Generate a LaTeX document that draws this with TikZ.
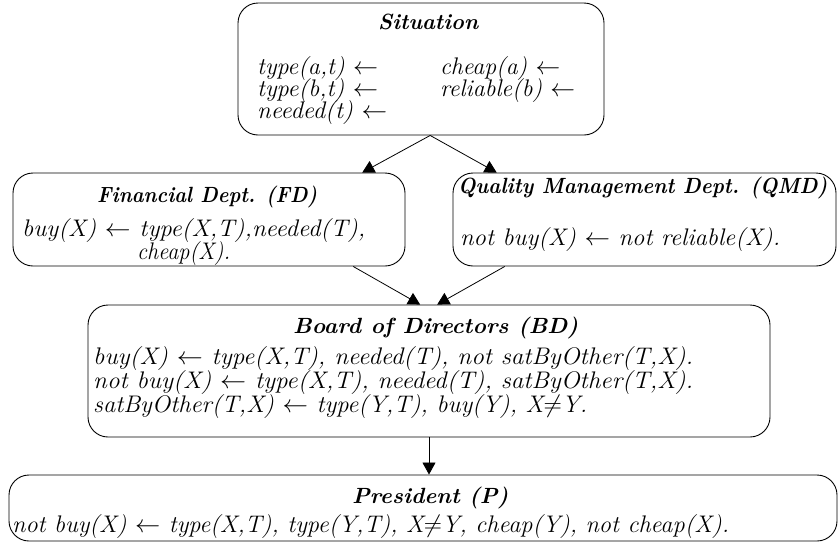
\documentclass[tikz,border=0pt]{standalone}
\usepackage{fontspec}
\setmainfont{Latin Modern Roman}
\usetikzlibrary{arrows.meta,calc}
\newcommand{\bodyfs}{\fontsize{24}{26}\selectfont}
\newcommand{\ttlfs}{\fontsize{22}{24}\selectfont}
\newcommand{\fitw}[2]{\resizebox{#1pt}{\height}{#2}}
\tikzset{
  box/.style={draw, rounded corners=20pt, line width=0.9pt, inner sep=0pt},
  ttl/.style={anchor=base west, font=\ttlfs\bfseries\itshape, inner sep=0pt},
  txt/.style={anchor=base west, font=\bodyfs\itshape, inner sep=0pt},
  arr/.style={-{Triangle[length=12pt,width=13pt]}, line width=0.8pt},
}
\begin{document}
\begin{tikzpicture}[x=1pt,y=-1pt]
\useasboundingbox (0,0) rectangle (838,544);
% boxes
\node[box, minimum width=366pt, minimum height=132pt] (sit) at (421,69) {};
\node[box, minimum width=392pt, minimum height=93pt] (fd) at (209,219.5) {};
\node[box, minimum width=383pt, minimum height=93pt] (qmd) at (644.5,219.5) {};
\node[box, minimum width=682pt, minimum height=132pt] (bd) at (429,371) {};
\node[box, minimum width=828pt, minimum height=66pt] (pres) at (423,508) {};
% Situation
\node[ttl] (sitT) at (378,29) {\fitw{100}{Situation}};
\node[txt] (s1) at (257,74) {\fitw{121}{type(a,t) $\leftarrow$}};
\node[txt] (s2) at (257,96) {\fitw{121}{type(b,t) $\leftarrow$}};
\node[txt] (s3) at (257,118) {\fitw{130}{needed(t) $\leftarrow$}};
\node[txt] (s4) at (440,74) {\fitw{120}{cheap(a) $\leftarrow$}};
\node[txt] (s5) at (440,96) {\fitw{135}{reliable(b) $\leftarrow$}};
% FD
\node[ttl] (fdT) at (97,202) {\fitw{220}{Financial Dept. (FD)}};
\node[txt] (f1) at (22,236) {\fitw{343}{buy(X) $\leftarrow$ type(X,T),needed(T),}};
\node[txt] (f2) at (137,259) {\fitw{93}{cheap(X).}};
% QMD
\node[ttl] (qmdT) at (458,193) {\fitw{369}{Quality Management Dept. (QMD)}};
\node[txt] (q1) at (460,245) {\fitw{320}{not buy(X) $\leftarrow$ not reliable(X).}};
% BD
\node[ttl] (bdT) at (293,333) {\fitw{285}{Board of Directors (BD)}};
\node[txt] (b1) at (93,364) {\fitw{600}{buy(X) $\leftarrow$ type(X,T), needed(T), not satByOther(T,X).}};
\node[txt] (b2) at (93,388) {\fitw{600}{not buy(X) $\leftarrow$ type(X,T), needed(T), satByOther(T,X).}};
\node[txt] (b3) at (93,412) {\fitw{494}{satByOther(T,X) $\leftarrow$ type(Y,T), buy(Y), X$\neq$Y.}};
% President
\node[ttl] (pT) at (352,503) {\fitw{156}{President (P)}};
\node[txt] (p1) at (12,532) {\fitw{717}{not buy(X) $\leftarrow$ type(X,T), type(Y,T), X$\neq$Y, cheap(Y), not cheap(X).}};
% arrows
\draw[arr] ($(sit.south west)!0.525!(sit.south east)$) -- ($(fd.north east)!0.11!(fd.north west)$);
\draw[arr] ($(sit.south west)!0.525!(sit.south east)$) -- ($(qmd.north west)!0.115!(qmd.north east)$);
\draw[arr] ($(fd.south east)!0.133!(fd.south west)$) -- ($(bd.north west)!0.487!(bd.north east)$);
\draw[arr] ($(qmd.south west)!0.136!(qmd.south east)$) -- ($(bd.north west)!0.512!(bd.north east)$);
\draw[arr] (bd.south) -- (bd.south |- pres.north);
\end{tikzpicture}
\end{document}
